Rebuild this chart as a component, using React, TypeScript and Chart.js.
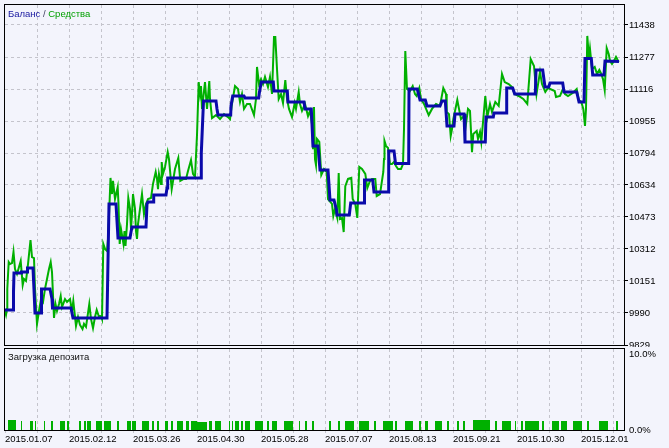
import { useEffect, useRef } from 'react';
import { Chart, registerables } from 'chart.js';

Chart.register(...registerables);

const BG = '#F3F4FC';
const GRID = '#C4C4CC';
const BAL = '#0A0AAA';
const EQ = '#00B000';
const FONT = '"Liberation Sans", Arial, sans-serif';

// x = deal index (trade sequence), y = account value
const balanceIdx = [0,8,8.5,9,16,16.5,22,22.5,28,29,30,36,36.5,45,47,47.5,66,68,102,104,111,112,113,125,126,127,141,142,143,148,148.7,161,162,162.7,196,196.3,198.5,211,212,213,225.7,226,227.7,239,240,253.7,254.3,256.3,268.3,269,282.3,283,299,300,306.3,308,313,315,323,325,329,331.5,332,344.3,345.7,359,359.5,367.7,369,383,383.7,389,390.5,403.7,404,412.3,415,420.3,422,435,437,440.3,442,449,450,459,460,480.3,481,488.3,489,501,501.7,507.7,509.7,530.3,531,537.7,540,543.7,545,557.7,559,571.7,574,579,580,586.3,587.7,599,600,614];
const balanceVal = [10005,10005,10095,10191,10191,10196,10196,10216,10216,10106,9990,9990,10111,10111,10060,10015,10015,9965,9965,10538,10538,10452,10367,10367,10397,10422,10422,10538,10548,10548,10583,10583,10618,10669,10669,10794,11056,11056,11016,10985,10985,11031,11081,11081,11071,11071,11096,11151,11151,11106,11106,11051,11051,11016,11016,10830,10830,10709,10709,10558,10558,10508,10483,10483,10543,10543,10659,10659,10598,10598,10804,10804,10742,10742,11116,11116,11061,11061,11031,11031,11056,11056,10930,10930,10990,10990,10850,10850,10975,10975,10996,10996,11121,11121,11091,11091,11212,11212,11126,11126,11146,11146,11101,11101,11051,11051,11270,11270,11187,11187,11257,11254];

const equityIdx = [0,1,2,2.3,3.7,5,7,8.5,10,12,14,15.7,17.7,19,21,23,25.5,27,29,30,32,34,36,38,40,42,44,45.7,47,49,50.5,52,54,55.7,57,60,62,65,67,68.3,71,73,75,77.5,79,81,84.3,86,88,90,91.7,94,96,97,98.3,100,102,103,104.7,105.5,107,108,110,112.7,113.5,114.7,116,118.5,119.5,120.5,122,123.3,125,126,127,128,130,131,132,133,135,137,139,141,143,146,148,150.7,152,153,154,156,156.7,158,160,162.7,164,166.7,170,173.3,175.3,178.7,181,183,186,188,190,192,193.7,195,196,197,200,202,204.3,205,207,211,215,219,223,225,227,230,233,235,237,239,242,245,249,251,252,254,256,258,260,263,265,267,269,270.3,272,273.7,276,278,280.3,282,284,287,289.7,291,293.7,295,297,300,303,305,307,308,309,310,311,312,314.3,316.3,319,321.7,323,327,328.3,330,332.3,333.7,335,337,338.7,340.3,343,346.3,347.7,350.3,352.3,354.3,357,360.3,362.3,365,367,370.3,371.7,375,378.3,379,379.5,381,383,385,387,389,391,393,396,398,399,400.3,402,405,407.7,410,411.7,414.3,416,419,423.7,427,431,435,438.3,441,441.7,444,445.7,447,448.3,452.3,454,456,459.7,461,463,465,467,468.3,471.7,473,475,476.3,480.3,482.3,485,487,490.3,493.7,497,499.7,503.7,507,509.7,513.7,518.3,522.3,525.7,529,531.5,535,537,540.3,543,549.7,551,555,558.3,560,563,567.7,571.7,573.7,576.3,578.3,580,581,582.3,584,585,587,589.7,592,594.3,596.3,598,599.7,601.7,603.7,605,607,609,611,613.7];
const equityVal = [10000,9980,10010,10111,10246,10236,10241,10297,10211,10186,10221,10251,10131,10161,10151,10236,10357,10271,10266,10111,9935,10000,10060,10045,10111,10161,10211,10246,10196,9965,10035,10000,10035,10075,10020,10060,10045,10060,10000,10050,9925,9970,9930,9909,9935,9920,10035,9960,9914,9970,10005,9970,9975,9960,10337,10312,10302,10362,10563,10669,10588,10654,10563,10623,10538,10337,10412,10337,10402,10327,10437,10568,10513,10412,10488,10588,10513,10402,10362,10437,10513,10588,10488,10538,10563,10568,10639,10699,10664,10613,10689,10639,10749,10689,10724,10799,10764,10613,10714,10769,10654,10664,10664,10704,10759,10689,10674,10885,11151,11091,11131,11016,11151,11016,11156,11066,10970,10985,10965,10990,10975,10965,11041,11131,11116,11051,11091,11016,11041,11041,10985,11066,11227,11141,11166,11141,11177,11126,11177,11091,11378,11378,11217,11066,11091,11046,11161,11066,11016,10975,11046,11016,11101,11041,11006,11041,10980,11006,10940,10814,11026,10764,10734,10865,10850,10684,10714,10699,10563,10538,10478,10513,10468,10694,10463,10468,10397,10628,10664,10669,10563,10538,10468,10724,10714,10689,10618,10654,10664,10664,10578,10588,10699,10764,10855,10830,10820,10739,10739,10749,10729,10714,10714,10739,10915,11307,11116,11106,11131,11091,11081,11121,11066,11041,10985,11016,11041,11031,11121,11091,11001,10990,10880,10915,10965,11061,11016,10965,10985,10940,11016,11006,10799,10890,10905,10865,10900,10850,11081,10975,11041,11001,11051,11031,11192,11151,11141,11126,11091,11081,11066,11041,11267,11232,11091,11202,11141,11101,11121,11106,11076,11081,11121,11091,11081,11096,11116,11061,11051,11016,10930,11016,11383,11267,11317,11217,11227,11192,11212,11192,11166,11111,11322,11292,11257,11242,11257,11277,11252];

// deposit load (%), per run of deals
const loadStart = [3,16,25,30,39,46,55,62,74,79,82,91,99,112,122,127,137,147,152,160,166,172,181,186,192,204,210,224,227,230,236,240,250,262,267,279,294,300,307,324,333,340,354,369,378,390,400,414,420,430,442,452,458,468,490,497,510,516,520,537,547,556,568,582,594,611];
const loadEnd = [11,17,28,31,40,48,60,64,76,81,86,97,106,114,126,131,144,149,154,163,168,178,184,192,202,207,216,225,228,234,238,245,258,264,272,288,295,302,309,326,335,349,364,371,388,392,408,416,423,437,444,454,460,485,492,506,511,518,534,539,554,562,577,584,603,613];
const loadPct = [1.3,1.2,1.2,1.2,1.2,1.2,1.2,1.2,1.2,1.2,1.2,1.2,1.2,1.2,1.2,1.2,1.2,1.2,1.2,1.2,1.2,1.2,1.2,1.2,1.05,1.2,1.2,1.2,1.2,1.2,1.2,1.2,1.2,1.2,1.2,1.2,1.2,1.2,1.2,1.2,1.2,1.2,1.2,1.2,1.2,1.2,1.2,1.2,1.2,1.2,1.2,1.2,1.2,1.3,1.2,1.2,1.2,1.2,1.2,1.2,1.2,1.2,1.2,1.2,1.2,1.2];

const yTicks = [9829, 9990, 10151, 10312, 10473, 10634, 10794, 10955, 11116, 11277, 11438];
const loadTicks = [0, 10];
const loadTickLabels = ['0.0%', '10.0%'];
const dateLabels = ['2015.01.07','2015.02.12','2015.03.26','2015.04.30','2015.05.28','2015.07.07','2015.08.13','2015.09.21','2015.10.30','2015.12.01'];
const X_MAX = 619;
const GRID_STEP = 32;
const LABEL_STEP = 64;

const W = 669;
const H = 448;
const TOP_H = 352;
const BOT_TOP = 347;

const gridValues = (from: number) => {
  const out: { value: number }[] = [];
  for (let v = from; v <= X_MAX; v += GRID_STEP) out.push({ value: v });
  return out;
};

const noPad = (s: any) => {
  s.paddingTop = 0;
  s.paddingBottom = 0;
  s.paddingLeft = 0;
  s.paddingRight = 0;
};

const framePlugin = {
  id: 'frame',
  afterDraw(chart: any) {
    const { ctx, chartArea: a } = chart;
    ctx.save();
    ctx.strokeStyle = '#000';
    ctx.lineWidth = 1;
    ctx.strokeRect(a.left - 0.5, a.top - 0.5, a.right - a.left + 1, a.bottom - a.top + 1);
    ctx.restore();
  },
};

export default function App() {
  const topRef = useRef<HTMLCanvasElement>(null);
  const botRef = useRef<HTMLCanvasElement>(null);

  useEffect(() => {
    const font = { family: FONT, size: 9.5 };
    const topTitle = {
      id: 'topTitle',
      afterDraw(chart: any) {
        const ctx = chart.ctx;
        ctx.save();
        ctx.font = `9.5px ${FONT}`;
        ctx.textBaseline = 'alphabetic';
        let x = 8;
        const y = 16.5;
        const parts: [string, string][] = [['Баланс', '#1818A0'], [' / ', '#404060'], ['Средства', '#00A000']];
        for (const [t, c] of parts) {
          ctx.fillStyle = c;
          ctx.fillText(t, x, y);
          x += ctx.measureText(t).width;
        }
        ctx.restore();
      },
    };
    const botTitle = {
      id: 'botTitle',
      afterDraw(chart: any) {
        const ctx = chart.ctx;
        ctx.save();
        ctx.font = `9.5px ${FONT}`;
        ctx.textBaseline = 'alphabetic';
        ctx.fillStyle = '#101010';
        ctx.fillText('Загрузка депозита', 8, 359.5 - BOT_TOP);
        ctx.restore();
      },
    };

    const c1 = new Chart(topRef.current!, {
      type: 'line',
      data: {
        datasets: [
          {
            data: balanceIdx.map((x, i) => ({ x, y: balanceVal[i] })),
            borderColor: BAL,
            borderWidth: 3,
            pointRadius: 0,
            tension: 0,
            borderJoinStyle: 'miter',
            fill: false,
          },
          {
            data: equityIdx.map((x, i) => ({ x, y: equityVal[i] })),
            borderColor: EQ,
            borderWidth: 2,
            pointRadius: 0,
            tension: 0,
            fill: false,
          },
        ],
      },
      options: {
        animation: false,
        responsive: false,
        events: [],
        layout: { padding: { left: 5, top: 5, right: 0, bottom: TOP_H - 345 } },
        plugins: { legend: { display: false }, tooltip: { enabled: false }, title: { display: false } },
        scales: {
          x: {
            type: 'linear',
            min: 0,
            max: X_MAX,
            afterBuildTicks: (s: any) => { s.ticks = gridValues(GRID_STEP); },
            afterFit: (s: any) => { s.height = 0; noPad(s); },
            ticks: { display: false },
            grid: { color: GRID, drawTicks: false, lineWidth: 1, borderDash: [3, 3] } as any,
            border: { display: false, dash: [3, 3] },
          },
          y: {
            type: 'linear',
            position: 'right',
            min: 9829,
            max: 11538.5,
            afterBuildTicks: (s: any) => { s.ticks = yTicks.map((v) => ({ value: v })); },
            afterFit: (s: any) => { s.width = W - 624; noPad(s); },
            ticks: { font, color: '#000', padding: 1, autoSkip: false, callback: (v: any) => String(v) },
            grid: { color: GRID, lineWidth: 1, tickLength: 4, tickColor: '#000', tickBorderDash: [], borderDash: [3, 3] } as any,
            border: { display: false, dash: [3, 3] },
          },
        },
      } as any,
      plugins: [framePlugin, topTitle],
    });

    const loadPoints: { x: number; y: number }[] = [{ x: 0, y: 0 }];
    loadStart.forEach((s, i) => {
      loadPoints.push({ x: s, y: loadPct[i] });
      loadPoints.push({ x: loadEnd[i], y: 0 });
    });
    loadPoints.push({ x: X_MAX, y: 0 });

    const c2 = new Chart(botRef.current!, {
      type: 'line',
      data: {
        datasets: [
          {
            data: loadPoints,
            stepped: true,
            borderWidth: 0,
            borderColor: 'rgba(0,0,0,0)',
            backgroundColor: '#00B000',
            fill: 'origin',
            pointRadius: 0,
          },
        ],
      },
      options: {
        animation: false,
        responsive: false,
        events: [],
        layout: { padding: { left: 5, top: 349 - BOT_TOP, right: 0, bottom: 0 } },
        plugins: { legend: { display: false }, tooltip: { enabled: false }, title: { display: false } },
        scales: {
          x: {
            type: 'linear',
            min: 0,
            max: X_MAX,
            afterBuildTicks: (s: any) => { s.ticks = gridValues(0); },
            afterFit: (s: any) => { s.height = (H - BOT_TOP) - (430 - BOT_TOP); noPad(s); },
            ticks: {
              font,
              color: '#000',
              autoSkip: false,
              maxRotation: 0,
              minRotation: 0,
              align: 'start',
              padding: 1,
              callback: (v: any) => (Number(v) % LABEL_STEP === 0 ? dateLabels[Number(v) / LABEL_STEP] : ''),
            },
            grid: {
              color: (ctx: any) => (ctx.tick && ctx.tick.value === 0 ? 'rgba(0,0,0,0)' : GRID),
              lineWidth: 1,
              tickLength: 3,
              tickColor: GRID,
              borderDash: [3, 3],
            } as any,
            border: { display: false, dash: [3, 3] },
          },
          y: {
            type: 'linear',
            position: 'right',
            min: 0,
            max: 10.66,
            afterBuildTicks: (s: any) => { s.ticks = loadTicks.map((v) => ({ value: v })); },
            afterFit: (s: any) => { s.width = W - 624; noPad(s); },
            ticks: { font, color: '#000', padding: 5, autoSkip: false, callback: (_v: any, i: number) => loadTickLabels[i] },
            grid: { display: false, drawTicks: false },
            border: { display: false },
          },
        },
      } as any,
      plugins: [framePlugin, botTitle],
    });

    return () => {
      c1.destroy();
      c2.destroy();
    };
  }, []);

  return (
    <div style={{ position: 'absolute', left: 0, top: 0, width: W, height: H, background: BG, overflow: 'hidden' }}>
      <canvas ref={topRef} width={W} height={TOP_H} style={{ position: 'absolute', left: 0, top: 0 }} />
      <canvas ref={botRef} width={W} height={H - BOT_TOP} style={{ position: 'absolute', left: 0, top: BOT_TOP, background: BG }} />
    </div>
  );
}
